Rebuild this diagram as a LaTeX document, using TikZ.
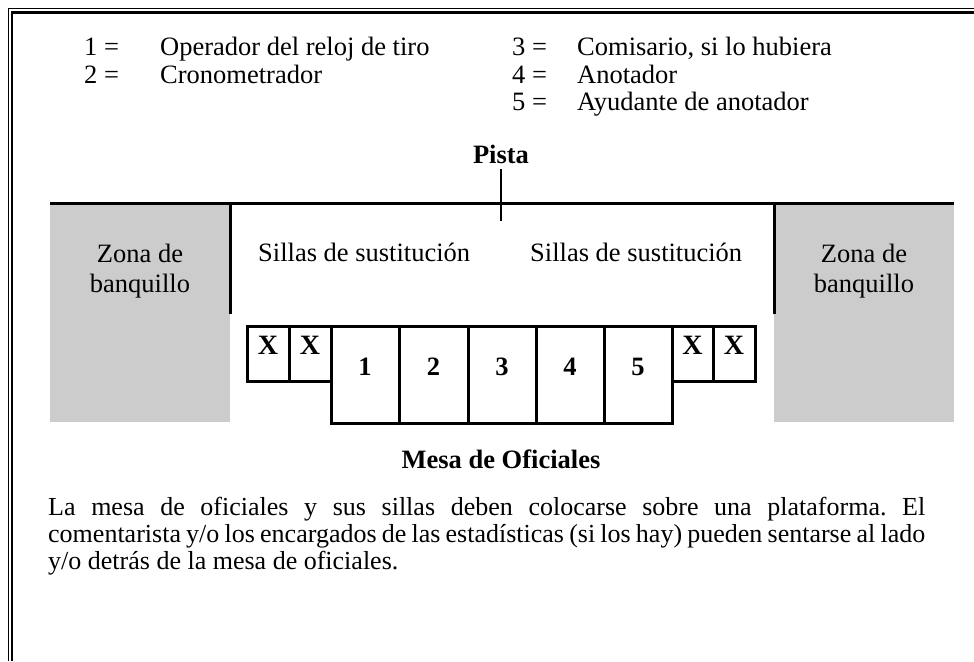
\documentclass[tikz,border=0pt]{standalone}
\usepackage{fontspec}
\setmainfont{Liberation Serif}
\frenchspacing
\newcommand{\jline}[1]{\hbox to 877pt{\spaceskip=0.25em plus 0.6em minus 0.16em #1}}
\begin{document}
\begin{tikzpicture}[x=1pt,y=-1pt,
  txt/.style={inner sep=0pt,font=\fontsize{26.5}{27}\selectfont},
  ptxt/.style={inner sep=0pt,font=\fontsize{26}{27}\selectfont},
  btxt/.style={inner sep=0pt,font=\fontsize{26.5}{27}\selectfont\bfseries},
  xtxt/.style={inner sep=0pt,font=\fontsize{28}{28}\selectfont\bfseries},
  seat/.style={draw=black,line width=3pt},
  zone/.style={fill=black!20,draw=none}]
\useasboundingbox (0,0) rectangle (974,661);
% frame (only top and left visible)
\draw[line width=1pt] (8.5,661) -- (8.5,9) -- (974,9);
\draw[line width=2.5pt] (12,661) -- (12,12.5) -- (974,12.5);
% legend
\node[txt,anchor=base west] (k1) at (84,56) {1 =};
\node[txt,anchor=base west] (v1) at (160,56) {Operador del reloj de tiro};
\node[txt,anchor=base west] (k2) at (84,83) {2 =};
\node[txt,anchor=base west] (v2) at (160,83) {Cronometrador};
\node[txt,anchor=base west] (k3) at (512,56) {3 =};
\node[txt,anchor=base west] (v3) at (577,56) {Comisario, si lo hubiera};
\node[txt,anchor=base west] (k4) at (512,83) {4 =};
\node[txt,anchor=base west] (v4) at (577,83) {Anotador};
\node[txt,anchor=base west] (k5) at (512,110) {5 =};
\node[txt,anchor=base west] (v5) at (577,110) {Ayudante de anotador};
% zones
\path[zone] (50,203) rectangle (230,422);
\path[zone] (774,203) rectangle (954,422);
\coordinate (tl) at (50,203);
\coordinate (tr) at (954,203);
\coordinate (wl) at (230,203);
\coordinate (wlb) at (230,314);
\coordinate (wr) at (774,203);
\coordinate (wrb) at (774,314);
\coordinate (pt) at (501,169);
\coordinate (pb) at (501,221);
\draw[line width=3pt] (tl) -- (tr);
\draw[line width=3pt] (wl) -- (wlb);
\draw[line width=3pt] (wr) -- (wrb);
\draw[line width=2.5pt] (pt) -- (pb);
\node[btxt,anchor=base] (pista) at (501,163) {Pista};
\node[txt,anchor=base] (z1a) at (140,262) {Zona de};
\node[txt,anchor=base] (z1b) at (140,292) {banquillo};
\node[txt,anchor=base] (z2a) at (864,262) {Zona de};
\node[txt,anchor=base] (z2b) at (864,292) {banquillo};
\node[txt,anchor=base west] (s1) at (258,261) {Sillas de sustitución};
\node[txt,anchor=base west] (s2) at (530,261) {Sillas de sustitución};
% seats
\draw[seat] (247,326) rectangle (289,381);
\draw[seat] (289,326) rectangle (331,381);
\draw[seat] (672,326) rectangle (713,381);
\draw[seat] (713,326) rectangle (755,381);
\draw[seat] (331,326) rectangle (399,423);
\draw[seat] (399,326) rectangle (468,423);
\draw[seat] (468,326) rectangle (536,423);
\draw[seat] (536,326) rectangle (604,423);
\draw[seat] (604,326) rectangle (672,423);
\node[xtxt] (x1) at (268,345) {X};
\node[xtxt] (x2) at (310,345) {X};
\node[xtxt] (x3) at (692.5,345) {X};
\node[xtxt] (x4) at (734,345) {X};
\node[btxt] (n1) at (365,367) {1};
\node[btxt] (n2) at (433.5,367) {2};
\node[btxt] (n3) at (502,367) {3};
\node[btxt] (n4) at (570,367) {4};
\node[btxt] (n5) at (638,367) {5};
\node[btxt,anchor=base] (mesa) at (501,468) {Mesa de Oficiales};
\node[ptxt,anchor=base west] (p1) at (48,515)
 {\jline{La mesa de oficiales y sus sillas deben colocarse sobre una plataforma. El}};
\node[ptxt,anchor=base west] (p2) at (48,542)
 {\jline{comentarista y/o los encargados de las estadísticas (si los hay) pueden sentarse al lado}};
\node[ptxt,anchor=base west] (p3) at (48,569)
 {y/o detrás de la mesa de oficiales.};
\end{tikzpicture}
\end{document}
